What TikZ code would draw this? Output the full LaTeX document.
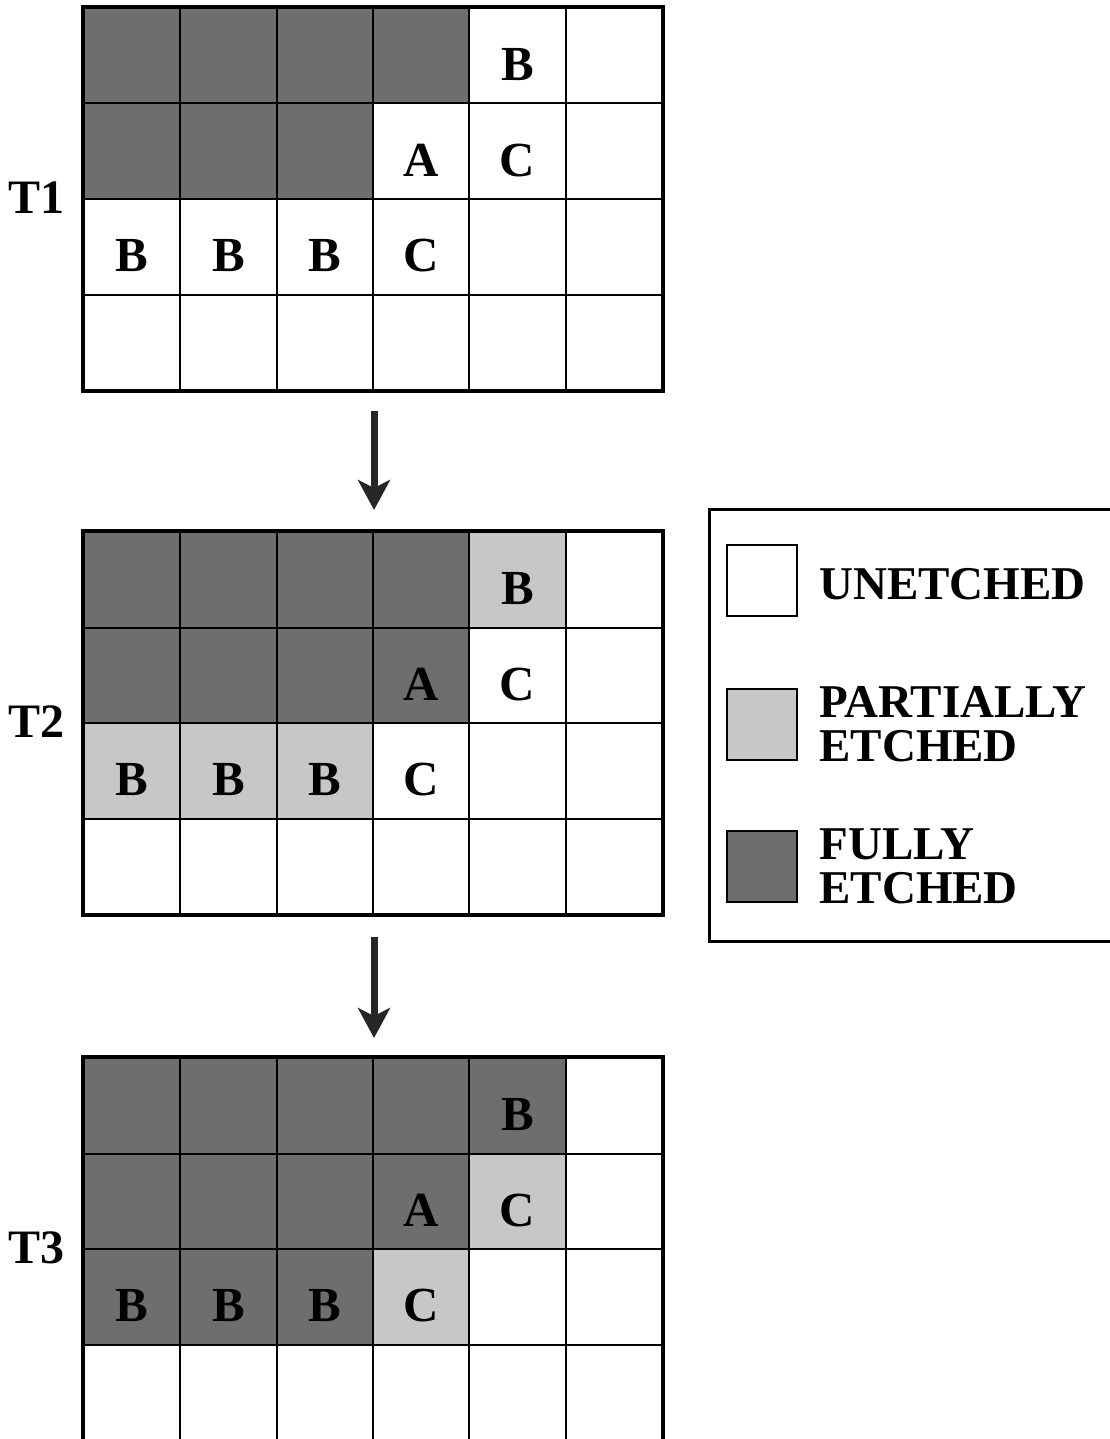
\documentclass[tikz,border=0pt]{standalone}
\usepackage{fontspec}
\setmainfont{Liberation Serif}
\usepackage{tikz}
\usetikzlibrary{arrows.meta,positioning}
\definecolor{fullgray}{gray}{0.43}
\definecolor{partgray}{gray}{0.78}

\begin{document}
\begin{tikzpicture}[
    x=0.5pt, y=-0.5pt,
    font=\bfseries,
    cell/.style={draw=black, line width=1pt, minimum width=48.2pt, minimum height=47.75pt, inner sep=0pt},
    fe/.style={fill=fullgray},
    pe/.style={fill=partgray},
    ue/.style={fill=white},
    letter/.style={font=\fontsize{24.5}{25}\bfseries\selectfont, inner sep=0pt, yshift=-4.5pt},
    frame/.style={draw=black, line width=1.6pt},
    tlabel/.style={font=\fontsize{24}{25}\bfseries\selectfont, inner sep=0pt},
    swatch/.style={draw=black, line width=1pt, minimum width=35pt, minimum height=35.5pt, inner sep=0pt},
    legtext/.style={font=\fontsize{23.5}{22}\bfseries\selectfont, align=left, inner sep=0pt},
    arrow/.style={-{Stealth[length=15pt,width=16pt,inset=4pt]}, line width=3.5pt, draw=black!85}
]
\path[use as bounding box, fill=white] (0,0) rectangle (1109,1439);

% T1
\foreach \row [count=\r] in {{fe/{},fe/{},fe/{},fe/{},ue/B,ue/{}},{fe/{},fe/{},fe/{},ue/A,ue/C,ue/{}},{ue/B,ue/B,ue/B,ue/C,ue/{},ue/{}},{ue/{},ue/{},ue/{},ue/{},ue/{},ue/{}}}
  \foreach \s/\l [count=\c] in \row {
    \node[cell,\s] (t1-\r-\c) at ({84+96.33*(\c-0.5)},{8+95.5*(\r-0.5)}) {};
    \node[letter] (t1-\r-\c-txt) at (t1-\r-\c) {\l};
  }
% T2
\foreach \row [count=\r] in {{fe/{},fe/{},fe/{},fe/{},pe/B,ue/{}},{fe/{},fe/{},fe/{},fe/A,ue/C,ue/{}},{pe/B,pe/B,pe/B,ue/C,ue/{},ue/{}},{ue/{},ue/{},ue/{},ue/{},ue/{},ue/{}}}
  \foreach \s/\l [count=\c] in \row {
    \node[cell,\s] (t2-\r-\c) at ({84+96.33*(\c-0.5)},{532+95.5*(\r-0.5)}) {};
    \node[letter] (t2-\r-\c-txt) at (t2-\r-\c) {\l};
  }
% T3
\foreach \row [count=\r] in {{fe/{},fe/{},fe/{},fe/{},fe/B,ue/{}},{fe/{},fe/{},fe/{},fe/A,pe/C,ue/{}},{fe/B,fe/B,fe/B,pe/C,ue/{},ue/{}},{ue/{},ue/{},ue/{},ue/{},ue/{},ue/{}}}
  \foreach \s/\l [count=\c] in \row {
    \node[cell,\s] (t3-\r-\c) at ({84+96.33*(\c-0.5)},{1058+95.5*(\r-0.5)}) {};
    \node[letter] (t3-\r-\c-txt) at (t3-\r-\c) {\l};
  }

\draw[frame] (t1-1-1.north west) rectangle (t1-4-6.south east);
\draw[frame] (t2-1-1.north west) rectangle (t2-4-6.south east);
\draw[frame] (t3-1-1.north west) rectangle (t3-4-6.south east);

\node[tlabel, left=9pt of t1-3-1.north west] (t1lab) {T1};
\node[tlabel, left=9pt of t2-3-1.north west] (t2lab) {T2};
\node[tlabel, left=9pt of t3-3-1.north west] (t3lab) {T3};

\draw[arrow, shorten <=10pt, shorten >=10.5pt] (t1-4-3.south east) -- (t2-1-3.north east);
\draw[arrow, shorten <=11pt, shorten >=9.5pt] (t2-4-3.south east) -- (t3-1-3.north east);

% legend
\node[frame, minimum width=220pt, minimum height=216pt, anchor=north west] (legend) at (708,508) {};
\node[swatch, fill=white] (unswatch) at (762,580) {};
\node[swatch, fill=partgray] (partswatch) at (762,724) {};
\node[swatch, fill=fullgray] (fullswatch) at (762,866) {};
\node[legtext, right=10.5pt of unswatch, yshift=-2pt] (untext) {UNETCHED};
\node[legtext, right=10.5pt of partswatch] (parttext) {PARTIALLY\\ETCHED};
\node[legtext, right=10.5pt of fullswatch] (fulltext) {FULLY\\ETCHED};
\end{tikzpicture}
\end{document}
